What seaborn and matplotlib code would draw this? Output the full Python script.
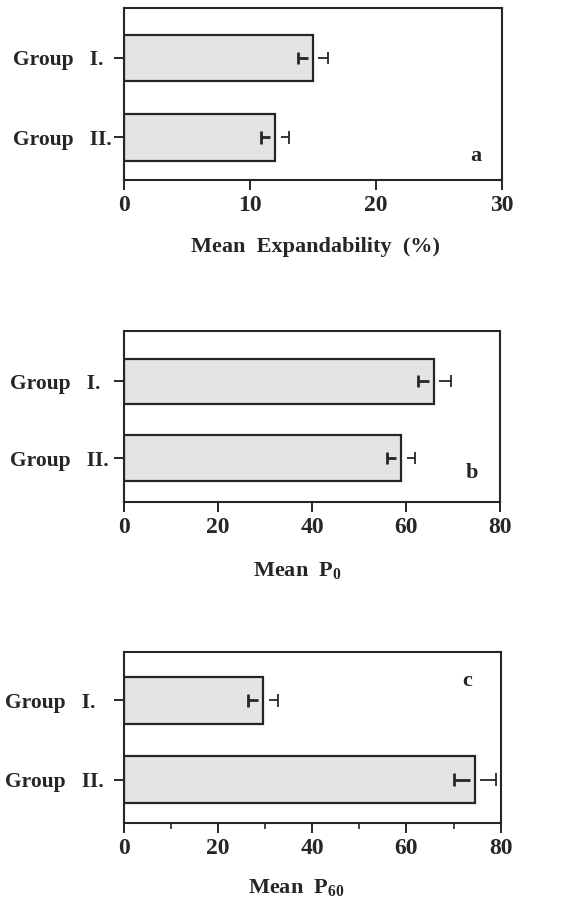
import numpy as np
import pandas as pd
import matplotlib
matplotlib.use("Agg")
import matplotlib.pyplot as plt
import seaborn as sns

# Group means and standard errors for each measure
groups = ["Group   I.", "Group   II."]
expand_mean = [15.0, 12.0]
expand_se = [1.2, 1.1]
p0_mean = [66.0, 59.0]
p0_se = [3.5, 3.0]
p60_mean = [29.6, 74.6]
p60_se = [3.2, 4.5]

sns.set_theme(style="ticks")
plt.rcParams["font.family"] = ["Liberation Serif", "DejaVu Serif"]
plt.rcParams["font.weight"] = "bold"
plt.rcParams["mathtext.fontset"] = "custom"
plt.rcParams["mathtext.rm"] = "Liberation Serif:bold"
plt.rcParams["mathtext.bf"] = "Liberation Serif:bold"

INK = "#262626"
FILL = "#e4e4e4"

fig = plt.figure(figsize=(5.83, 9.05), dpi=100)

panels = [
    dict(mean=expand_mean, se=expand_se, xmax=30, ticks=[0, 10, 20, 30], minor=None,
         rect=[0.2127, 0.8011, 0.6484, 0.190], ylim=(1.54, -0.63),
         xlabel="Mean  Expandability  (%)", lab=(0.507, -0.388),
         letter="a", lpos=(0.931, 0.141), ypad=73),
    dict(mean=p0_mean, se=p0_se, xmax=80, ticks=[0, 20, 40, 60, 80], minor=None,
         rect=[0.2127, 0.4456, 0.6450, 0.189], ylim=(1.57, -0.66),
         xlabel="Mean  P$_0$", lab=(0.46, -0.409),
         letter="b", lpos=(0.925, 0.166), ypad=75),
    dict(mean=p60_mean, se=p60_se, xmax=80, ticks=[0, 20, 40, 60, 80], minor=[10, 30, 50, 70],
         rect=[0.2127, 0.0909, 0.6460, 0.189], ylim=(1.54, -0.61),
         xlabel="Mean  P$_{60}$", lab=(0.458, -0.382),
         letter="c", lpos=(0.91, 0.829), ypad=79),
]

for p in panels:
    ax = fig.add_axes(p["rect"])
    df = pd.DataFrame({"group": groups, "value": p["mean"]})
    sns.barplot(data=df, x="value", y="group", orient="h", color=FILL,
                edgecolor=INK, linewidth=1.6, width=0.59, errorbar=None,
                saturation=1, ax=ax)

    # error bars drawn as two capped arms leaving a small gap at the bar end
    gap = 0.014 * p["xmax"]
    for i, (m, s) in enumerate(zip(p["mean"], p["se"])):
        ax.hlines(i, m - s, m - gap, color=INK, lw=2.0, zorder=5)
        ax.hlines(i, m + gap, m + s, color=INK, lw=1.3, zorder=5)
        ax.vlines([m - s], i - 0.08, i + 0.08, color=INK, lw=2.0, zorder=5)
        ax.vlines([m + s], i - 0.08, i + 0.08, color=INK, lw=1.3, zorder=5)

    ax.set_xlim(0, p["xmax"])
    ax.set_ylim(*p["ylim"])
    ax.set_xticks(p["ticks"])
    ax.set_xticklabels([str(t) for t in p["ticks"]], fontsize=17, fontweight="bold")
    if p["minor"]:
        ax.set_xticks(p["minor"], minor=True)
        ax.tick_params(axis="x", which="minor", length=4, width=1.2, color=INK)

    ax.tick_params(axis="x", which="major", direction="out", length=7, width=1.4,
                   color=INK, pad=4, labelcolor=INK)
    ax.tick_params(axis="y", direction="out", length=7, width=1.4, color=INK,
                   pad=p["ypad"], labelcolor=INK)
    ax.set_yticks([0, 1])
    ax.set_yticklabels(groups, fontsize=15.5, fontweight="bold", ha="left")

    for sp in ax.spines.values():
        sp.set_visible(True)
        sp.set_color(INK)
        sp.set_linewidth(1.5)

    ax.set_ylabel("")
    ax.set_xlabel(p["xlabel"], fontsize=16, fontweight="bold", color=INK)
    ax.xaxis.label.set_va("center")
    ax.xaxis.set_label_coords(*p["lab"])

    ax.text(p["lpos"][0], p["lpos"][1], p["letter"], transform=ax.transAxes,
            fontsize=16, fontweight="bold", color=INK, ha="center", va="center")

fig.savefig("out.png", dpi=100)
